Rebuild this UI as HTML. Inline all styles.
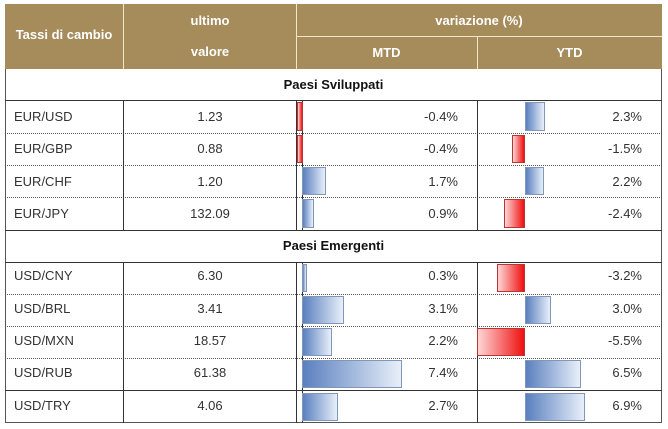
<!DOCTYPE html>
<html><head><meta charset="utf-8"><style>
body{margin:0;width:668px;height:429px;background:#fff;position:relative;overflow:hidden;font-family:"Liberation Sans",sans-serif;font-size:13px;color:#333}
div{position:absolute;box-sizing:border-box}
.h{background:#a68b5b;color:#fff;font-weight:bold;text-align:center;font-size:13px}
.l{left:14px}
.v{left:124px;width:172px;text-align:center}
.m{left:296px;width:162px;text-align:right}
.y{left:477px;width:165px;text-align:right}
.hl{left:5px;width:657px;height:0;border-top:1px dotted #555}
.sl{left:5px;width:657px;height:0;border-top:1.5px solid #333}
.b{background:linear-gradient(to right,#5a80bf,#e8eff9);border:1px solid #8097b8}
.r{background:linear-gradient(to right,#ffd6d6,#ee1010);border:1px solid #b33}
.sec{left:5px;width:657px;text-align:center;font-weight:bold;color:#111}
</style></head><body>
<div class="h" style="left:5px;top:4px;width:657px;height:65px"></div>
<div style="left:123px;top:4px;width:1px;height:65px;background:#f1e6c8"></div>
<div style="left:296px;top:4px;width:1px;height:65px;background:#f1e6c8"></div>
<div style="left:296px;top:36px;width:366px;height:1px;background:#f1e6c8"></div>
<div style="left:477px;top:37px;width:1px;height:32px;background:#f1e6c8"></div>
<div class="h" style="left:5px;top:27px;width:118px;background:none">Tassi di cambio</div>
<div class="h" style="left:124px;top:13px;width:172px;background:none">ultimo</div>
<div class="h" style="left:124px;top:44px;width:172px;background:none">valore</div>
<div class="h" style="left:296px;top:13px;width:366px;background:none">variazione (%)</div>
<div class="h" style="left:296px;top:45px;width:181px;background:none">MTD</div>
<div class="h" style="left:477px;top:45px;width:185px;background:none">YTD</div>

<div style="left:5px;top:69px;width:657px;height:354px;border:1px solid #555;border-top:none"></div>
<div class="sec" style="top:77px">Paesi Sviluppati</div>
<div class="sec" style="top:238px">Paesi Emergenti</div>
<div class="sl" style="top:100px"></div>
<div class="hl" style="top:133px"></div>
<div class="hl" style="top:165px"></div>
<div class="hl" style="top:197px"></div>
<div class="sl" style="top:230px"></div>
<div class="sl" style="top:262px"></div>
<div class="hl" style="top:294px"></div>
<div class="hl" style="top:326px"></div>
<div class="hl" style="top:358px"></div>
<div class="sl" style="top:390px"></div>
<div style="left:123px;top:100px;width:1px;height:130px;background:#333"></div>
<div style="left:296px;top:100px;width:1px;height:130px;background:#333"></div>
<div style="left:477px;top:100px;width:1px;height:130px;background:#333"></div>
<div style="left:123px;top:262px;width:1px;height:161px;background:#333"></div>
<div style="left:296px;top:262px;width:1px;height:161px;background:#333"></div>
<div style="left:477px;top:262px;width:1px;height:161px;background:#333"></div>
<div style="left:302px;top:100px;width:1px;height:130px;background:#333"></div>
<div style="left:302px;top:262px;width:1px;height:161px;background:#333"></div>

<!-- bars MTD -->
<div class="r" style="left:297px;top:102px;width:6px;height:29px"></div>
<div class="r" style="left:297px;top:135px;width:6px;height:28px"></div>
<div class="b" style="left:302px;top:167px;width:24px;height:28px"></div>
<div class="b" style="left:302px;top:199px;width:12px;height:29px"></div>
<div class="b" style="left:302px;top:264px;width:5px;height:28px"></div>
<div class="b" style="left:302px;top:296px;width:42px;height:28px"></div>
<div class="b" style="left:302px;top:328px;width:30px;height:28px"></div>
<div class="b" style="left:302px;top:360px;width:100px;height:28px"></div>
<div class="b" style="left:302px;top:393px;width:36px;height:28px"></div>
<!-- bars YTD -->
<div class="b" style="left:525px;top:102px;width:20px;height:29px"></div>
<div class="r" style="left:512px;top:135px;width:13px;height:28px"></div>
<div class="b" style="left:525px;top:167px;width:19px;height:28px"></div>
<div class="r" style="left:504px;top:199px;width:21px;height:29px"></div>
<div class="r" style="left:497px;top:264px;width:28px;height:28px"></div>
<div class="b" style="left:525px;top:296px;width:26px;height:28px"></div>
<div class="r" style="left:477px;top:328px;width:48px;height:28px"></div>
<div class="b" style="left:525px;top:360px;width:56px;height:28px"></div>
<div class="b" style="left:525px;top:393px;width:60px;height:28px"></div>

<div class="l" style="top:109px">EUR/USD</div><div class="v" style="top:109px">1.23</div><div class="m" style="top:109px">-0.4%</div><div class="y" style="top:109px">2.3%</div>
<div class="l" style="top:141px">EUR/GBP</div><div class="v" style="top:141px">0.88</div><div class="m" style="top:141px">-0.4%</div><div class="y" style="top:141px">-1.5%</div>
<div class="l" style="top:174px">EUR/CHF</div><div class="v" style="top:174px">1.20</div><div class="m" style="top:174px">1.7%</div><div class="y" style="top:174px">2.2%</div>
<div class="l" style="top:206px">EUR/JPY</div><div class="v" style="top:206px">132.09</div><div class="m" style="top:206px">0.9%</div><div class="y" style="top:206px">-2.4%</div>
<div class="l" style="top:268px">USD/CNY</div><div class="v" style="top:268px">6.30</div><div class="m" style="top:268px">0.3%</div><div class="y" style="top:268px">-3.2%</div>
<div class="l" style="top:301px">USD/BRL</div><div class="v" style="top:301px">3.41</div><div class="m" style="top:301px">3.1%</div><div class="y" style="top:301px">3.0%</div>
<div class="l" style="top:333px">USD/MXN</div><div class="v" style="top:333px">18.57</div><div class="m" style="top:333px">2.2%</div><div class="y" style="top:333px">-5.5%</div>
<div class="l" style="top:365px">USD/RUB</div><div class="v" style="top:365px">61.38</div><div class="m" style="top:365px">7.4%</div><div class="y" style="top:365px">6.5%</div>
<div class="l" style="top:398px">USD/TRY</div><div class="v" style="top:398px">4.06</div><div class="m" style="top:398px">2.7%</div><div class="y" style="top:398px">6.9%</div>
</body></html>
